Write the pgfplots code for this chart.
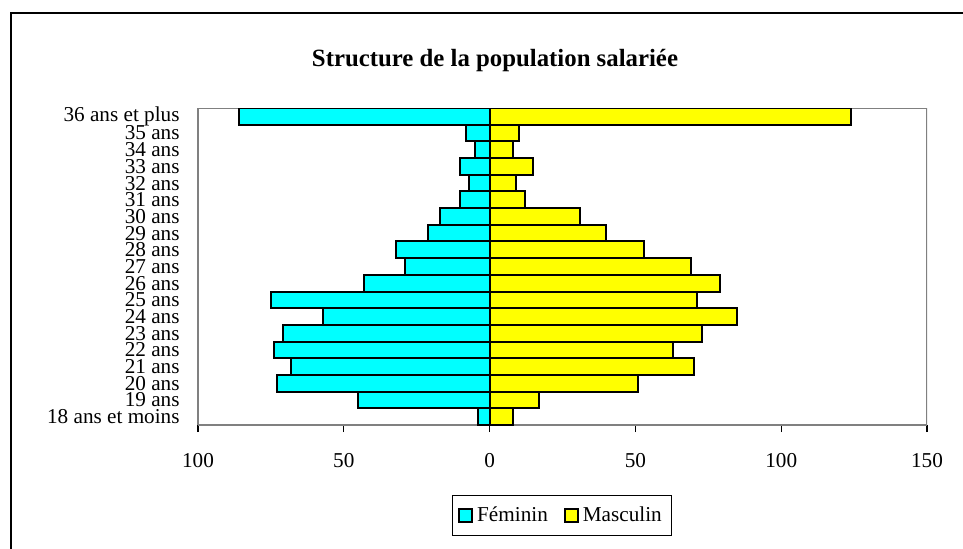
\documentclass[border=0pt]{standalone}
\usepackage{pgfplots}
\pgfplotsset{compat=1.18}
\usepackage{fontspec}
\setmainfont{Liberation Serif}
\newcommand\f{\fontsize{10.6}{12}\selectfont}
\definecolor{fem}{HTML}{00FFFF}
\definecolor{mas}{HTML}{FFFF00}
\definecolor{axgray}{HTML}{808080}
\begin{document}
\begin{tikzpicture}
\useasboundingbox (0pt,0pt) rectangle (481.5pt,274pt);
\draw[line width=1pt] (5.5pt,-2pt) -- (5.5pt,267.5pt) -- (484pt,267.5pt);
\node[font=\fontsize{12.4}{14}\selectfont\bfseries] at (247.5pt,243.5pt) {Structure de la population salariée};
\begin{axis}[
  at={(99pt,61.5pt)}, anchor=south west,
  scale only axis, width=364.5pt, height=158.5pt,
  xbar, bar shift=0pt, bar width=1,
  xmin=-100, xmax=150, ymin=-0.5, ymax=18.5,
  xtick={-100,-50,0,50,100,150},
  xticklabels={100,50,0,50,100,150},
  ytick={0,...,18},
  yticklabels={18 ans et moins,19 ans,20 ans,21 ans,22 ans,23 ans,24 ans,25 ans,26 ans,27 ans,28 ans,29 ans,30 ans,31 ans,32 ans,33 ans,34 ans,35 ans,36 ans et plus},
  axis line style={axgray, line width=1pt},
  axis x line*=bottom, axis y line*=left,
  tick align=outside,
  major tick length=3.5pt,
  x tick style={black, line width=0.6pt},
  y tick style={draw=none},
  xtick pos=bottom,
  ticklabel style={font=\f},
  /pgf/number format/assume math mode=true,
  xticklabel style={yshift=-7pt},
  yticklabel style={xshift=-4.5pt, inner sep=1pt},
  legend columns=2,
  legend style={at={(0.4993,-0.2855)}, anchor=center, font=\f, draw=black, line width=0.5pt,
    inner xsep=3pt, inner ysep=3.5pt, /tikz/every even column/.append style={column sep=6pt}},
  legend image code/.code={\draw[#1, line width=1pt] (0pt,-3.2pt) rectangle (6.5pt,3.2pt);},
  legend cell align=left,
]
\draw[axgray, line width=1pt] (rel axis cs:0,1) -- (rel axis cs:1,1) -- (rel axis cs:1,0);
\addplot[fill=fem, draw=black, line width=1pt] coordinates {
(-4,0) (-45,1) (-73,2) (-68,3) (-74,4) (-71,5) (-57,6) (-75,7) (-43,8) (-29,9)
(-32,10) (-21,11) (-17,12) (-10,13) (-7,14) (-10,15) (-5,16) (-8,17) (-86,18)};
\addplot[fill=mas, draw=black, line width=1pt] coordinates {
(8,0) (17,1) (51,2) (70,3) (63,4) (73,5) (85,6) (71,7) (79,8) (69,9)
(53,10) (40,11) (31,12) (12,13) (9,14) (15,15) (8,16) (10,17) (124,18)};
\legend{Féminin,Masculin}
\end{axis}
\end{tikzpicture}
\end{document}
